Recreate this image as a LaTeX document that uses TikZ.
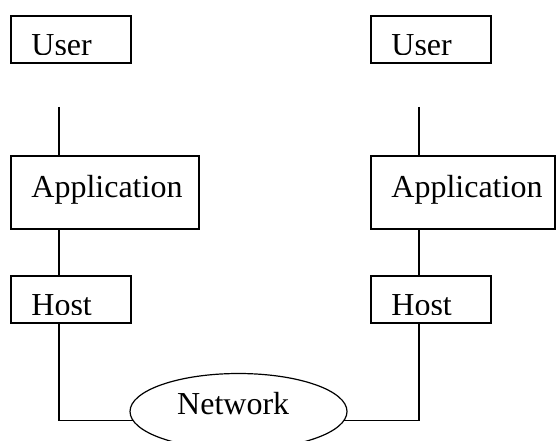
\documentclass[tikz,border=0pt]{standalone}
\usepackage{fontspec}
\setmainfont{Liberation Serif}
\usetikzlibrary{shapes.geometric, positioning}

\begin{document}
\begin{tikzpicture}[
            x=1pt, y=-1pt,
            every node/.style={font=\fontsize{32}{36}\selectfont},
            box/.style={
                    rectangle,
                    draw,
                    line width=1.6pt,
                    inner sep=0pt
                },
            cloud/.style={
                    ellipse,
                    draw,
                    line width=1.2pt,
                    minimum width=217pt,
                    minimum height=76pt,
                    inner sep=0pt
                },
            txt/.style={
                    anchor=base west,
                    inner sep=0pt
                },
            wire/.style={
            line width=1.2pt
            }
            ]

            \useasboundingbox (0,0) rectangle (556,441);

            % Kotak kiri
            \node (userL) [box, minimum width=120pt, minimum height=47pt] at (71,39.5) {};
            \node (appL) [box, minimum width=188pt, minimum height=73pt] at (105,192.5) {};
            \node (hostL) [box, minimum width=120pt, minimum height=47pt] at (71,299.5) {};

            % Kotak kanan
            \node (userR) [box, minimum width=120pt, minimum height=47pt] at (431,39.5) {};
            \node (appR) [box, minimum width=184pt, minimum height=73pt] at (463,192.5) {};
            \node (hostR) [box, minimum width=120pt, minimum height=47pt] at (431,299.5) {};

            % Jaringan
            \node (net) [cloud] at (238.5,411.5) {};

            % Teks (bagian bawah terpotong)
            \begin{scope}
                \clip (0,0) rectangle (556,54.5);
                \node (userLtxt) [txt] at ([xshift=21pt, yshift=8.5pt]userL.south west) {User};
                \node (userRtxt) [txt] at ([xshift=21pt, yshift=8.5pt]userR.south west) {User};
            \end{scope}
            \begin{scope}
                \clip (0,260) rectangle (556,314.5);
                \node (hostLtxt) [txt] at ([xshift=21pt, yshift=8.5pt]hostL.south west) {Host};
                \node (hostRtxt) [txt] at ([xshift=21pt, yshift=8.5pt]hostR.south west) {Host};
            \end{scope}
            \node (appLtxt) [txt] at ([xshift=21pt, yshift=32pt]appL.south west) {Application};
            \node (appRtxt) [txt] at ([xshift=21pt, yshift=32pt]appR.south west) {Application};
            \node (nettxt) [txt] at ([xshift=-61.5pt, yshift=-3pt]net.center) {Network};

            % Garis
            \coordinate (topL) at (59,107);
            \coordinate (topR) at (419,107);
            \draw [wire] (topL) -- (topL |- appL.north);
            \draw [wire] (topL |- appL.south) -- (topL |- hostL.north);
            \draw [wire] (topL |- hostL.south) |- (net.185);
            \draw [wire] (topR) -- (topR |- appR.north);
            \draw [wire] (topR |- appR.south) -- (topR |- hostR.north);
            \draw [wire] (topR |- hostR.south) |- (net.355);

        \end{tikzpicture}
\end{document}
